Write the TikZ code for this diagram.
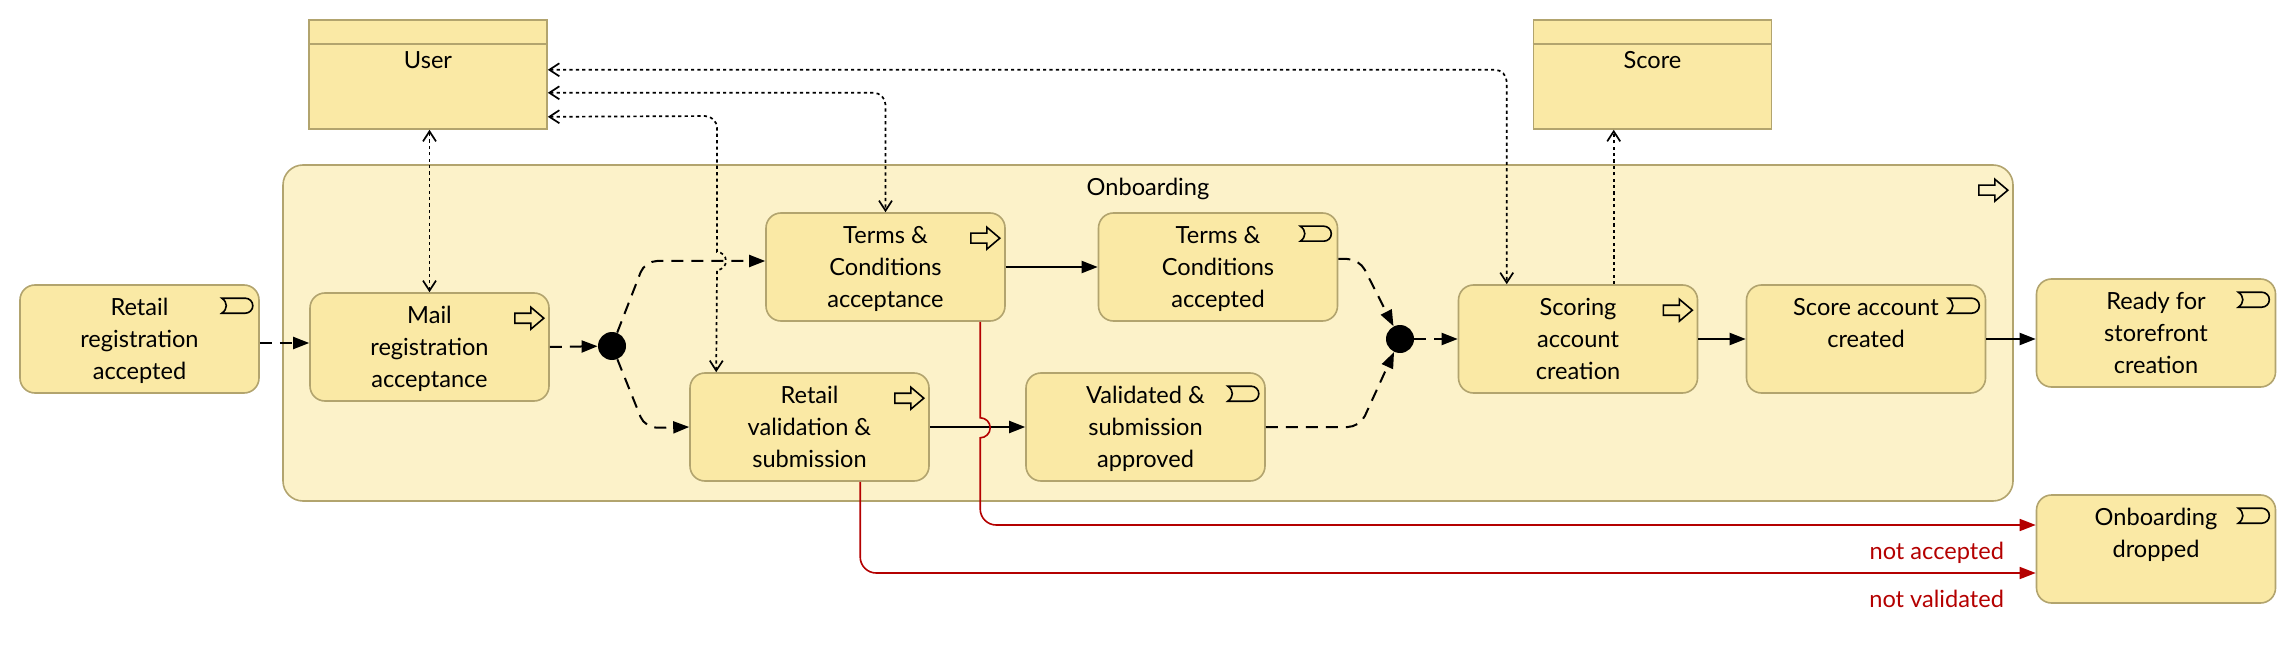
\documentclass[tikz,border=0pt]{standalone}
\usepackage{fontspec}
\setmainfont{Lato}
\usetikzlibrary{arrows.meta}
\definecolor{stfill}{HTML}{FAE9A5}
\definecolor{grpfill}{HTML}{FCF2C9}
\definecolor{edge}{HTML}{B2A46E}
\definecolor{failred}{HTML}{B40000}
\begin{document}
\begin{tikzpicture}[x=0.5pt, y=-0.5pt,
    font=\fontsize{11.8}{16}\selectfont,
    txt/.style={anchor=north, yshift=-5pt, align=center, inner sep=2pt},
    statebox/.style={draw=edge, line width=0.8pt, fill=stfill, rounded corners=7.5pt,
        minimum width=119.5pt, minimum height=54pt, inner sep=0pt},
    objbox/.style={draw=edge, line width=0.8pt, fill=stfill, minimum width=119pt,
        minimum height=54.5pt, inner sep=0pt},
    icon/.style={draw=black, line width=0.8pt},
    junction/.style={circle, fill=black, minimum size=14pt, inner sep=0pt},
    trigger/.style={line width=1pt, -{Triangle[length=8pt,width=6pt]}},
    trigdash/.style={trigger, dash pattern=on 6pt off 4pt, rounded corners=6pt},
    access/.style={line width=0.85pt, dash pattern=on 1.6pt off 1.6pt,
        >={Straight Barb[length=5pt,width=6.5pt]}},
    failline/.style={draw=failred, line width=0.8pt, rounded corners=8pt,
        -{Triangle[length=8pt,width=6pt]}},
    failtxt/.style={text=failred, anchor=north east, inner sep=2pt, xshift=-13.5pt, yshift=-6pt}]
    \useasboundingbox (0,0) rectangle (2296,652);

    % Group
    \node[draw=edge, line width=0.8pt, fill=grpfill, rounded corners=10pt, inner sep=0pt,
        minimum width=865pt, minimum height=168pt,
        label={[txt]north:Onboarding}] (onb) at (1148,333) {};

    % Objects
    \node[objbox, label={[txt, yshift=-9pt]north:User}] (user) at (428,74.5) {};
    \node[objbox, label={[txt, yshift=-9pt]north:Score}] (score) at (1652.5,74.5) {};
    \foreach \n in {user,score}
        \draw[edge, line width=0.8pt] ([yshift=-12.5pt]\n.north west) -- ([yshift=-12.5pt]\n.north east);

    % States
    \node[statebox, label={[txt]north:Retail\\registration\\accepted}] (retacc) at (139.5,339) {};
    \node[statebox, label={[txt]north:Mail\\registration\\acceptance}] (mailacc) at (429.5,347) {};
    \node[junction] (j1) at (612,346) {};
    \node[statebox, label={[txt]north:Terms \&\\Conditions\\acceptance}] (tcacc) at (885.5,267) {};
    \node[statebox, label={[txt]north:Retail\\validation \&\\submission}] (retval) at (809.5,427) {};
    \node[statebox, label={[txt]north:Terms \&\\Conditions\\accepted}] (tcok) at (1218,267) {};
    \node[statebox, label={[txt]north:Validated \&\\submission\\approved}] (valok) at (1145.5,427) {};
    \node[junction] (j2) at (1400,339) {};
    \node[statebox, label={[txt]north:Scoring\\account\\creation}] (scoring) at (1578,339) {};
    \node[statebox, label={[txt]north:Score account\\created}] (scoreok) at (1866,339) {};
    \node[statebox, label={[txt]north:Ready for\\storefront\\creation}] (ready) at (2156,333) {};
    \node[statebox, label={[txt]north:Onboarding\\dropped}] (dropped) at (2156,549) {};

    % Icons
    \foreach \n in {onb,mailacc,tcacc,retval,scoring}
        \draw[icon, shift={(\n.north east)}]
            (-17.5pt,-10.5pt) -- (-9.5pt,-10.5pt) -- (-9.5pt,-7.5pt) -- (-3pt,-13pt) --
            (-9.5pt,-18.5pt) -- (-9.5pt,-15.5pt) -- (-17.5pt,-15.5pt) -- cycle;
    \foreach \n in {retacc,tcok,valok,scoreok,ready,dropped}
        \draw[icon, shift={(\n.north east)}]
            (-19pt,-7pt) -- (-7.25pt,-7pt) arc[start angle=90, end angle=-90, radius=3.75pt] --
            (-19pt,-14.5pt) .. controls (-16pt,-12.5pt) and (-16pt,-9pt) .. cycle;

    % Flow
    \draw[trigdash] ([yshift=-2pt]retacc.east) -- ([yshift=2pt]mailacc.west);
    \draw[trigdash] (mailacc.east) -- (j1);
    \draw[trigdash] (j1) -- ++(33,-85) -- ([yshift=3pt]tcacc.west);
    \draw[trigdash] (j1) -- ++(33,82) -- (retval.west);
    \draw[trigger] (tcacc.east) -- (tcok.west);
    \draw[trigger] (retval.east) -- (valok.west);
    \draw[trigdash] ([yshift=4pt]tcok.east) -- ++(21,0) -- (j2);
    \draw[trigdash] (valok.east) -- ++(94,0) -- (j2);
    \draw[trigdash] (j2) -- (scoring.west);
    \draw[trigger] (scoring.east) -- (scoreok.west);
    \draw[trigger] (scoreok.east) -- (scoreok.east -| ready.west);

    % Access
    \draw[access, <->] (mailacc.north) -- (mailacc.north |- user.south);
    \draw[access, <->, rounded corners=6pt] ([yshift=30pt]user.south east) -| ([xshift=24.5pt]scoring.north west);
    \draw[access, <->, rounded corners=6pt] ([yshift=18.5pt]user.south east) -| (tcacc.north);
    \draw[access, <->] ([yshift=6.5pt]user.south east) [rounded corners=6pt] -- (717,116)
        [sharp corners] -- (717,252) arc[start angle=90, end angle=-90, radius=4.5pt]
        -- ([xshift=13.5pt]retval.north west);
    \draw[access, ->] ([xshift=78pt]scoring.north west) -- ([xshift=78pt]scoring.north west |- score.south);

    % Drop out
    \draw[failline] ([xshift=107.5pt]tcacc.south west) [sharp corners] -- ++(0,-48pt)
        arc[start angle=90, end angle=-90, radius=5pt] [rounded corners=8pt]
        |- ([yshift=12pt]dropped.west) node[failtxt] (nacc) {not accepted};
    \draw[failline] ([xshift=85.5pt]retval.south west) |- ([yshift=-12pt]dropped.west)
        node[failtxt] (nval) {not validated};
\end{tikzpicture}
\end{document}
